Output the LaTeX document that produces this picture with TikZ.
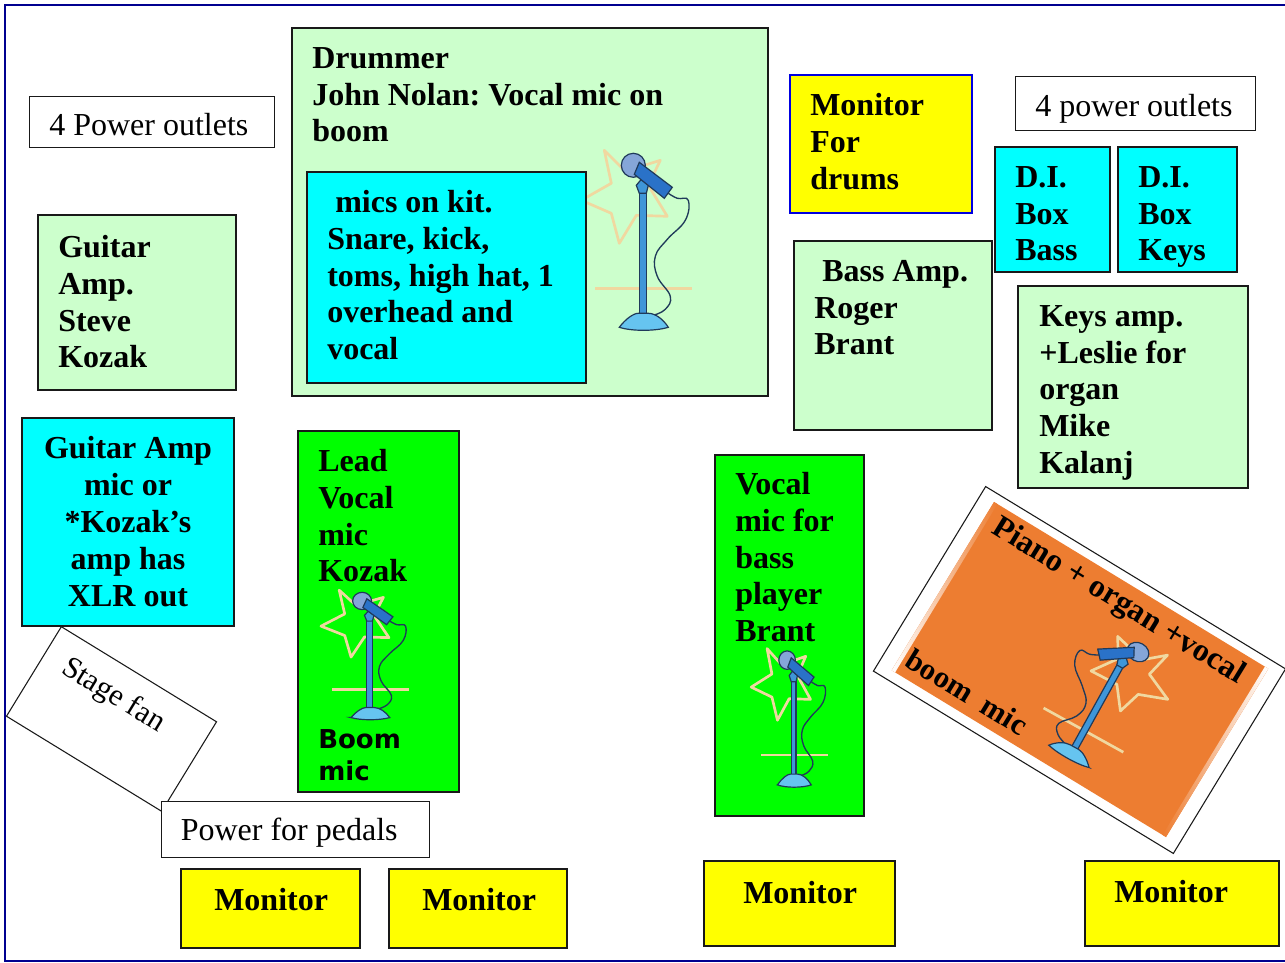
\documentclass[tikz,border=0pt]{standalone}
\usepackage{fontspec}
\setmainfont{Liberation Serif}
\newfontfamily\boomfont{DejaVu Sans}
\definecolor{palegreen}{HTML}{CCFFCC}
\definecolor{keyorange}{HTML}{ED7D31}
\definecolor{slidenavy}{HTML}{000090}
\definecolor{stagecyan}{HTML}{00FFFF}
\definecolor{stageyellow}{HTML}{FFFF00}
\definecolor{stagegreen}{HTML}{00FF00}
\definecolor{stageblue}{HTML}{0000E0}
\definecolor{startan}{HTML}{F0D8A0}
\definecolor{micblue}{HTML}{3F96D8}
\definecolor{baseblue}{HTML}{66C4F0}
\definecolor{headblue}{HTML}{85A6D8}
\definecolor{handleblue}{HTML}{2A72C8}
\definecolor{micedge}{HTML}{1F3A5A}
\tikzset{
  mic/.pic={
    \draw[startan,line width=2pt,line join=round] (-39,-173) -- (-18,-152) -- (17,-163) -- (5,-138) -- (24,-107) -- (-7,-108) -- (-24,-80) -- (-32,-110) -- (-62,-123) -- (-32,-140) -- cycle;
    \draw[startan,line width=2pt] (-48,-35) -- (49,-35);
    \draw[micedge,line width=1pt] plot[smooth,tension=.7] coordinates {(25,-130) (34,-125) (45,-123) (42,-103) (24,-84) (12,-67) (14,-47) (27,-27) (22,-14) (10,-8)};
    \draw[micedge,fill=micblue,line width=.9pt] (-4,-137) rectangle (3,-8);
    \draw[micedge,fill=baseblue,line width=.9pt] (-24,4) .. controls (-18,-4) and (-10,-10) .. (-5,-10) -- (5,-10) .. controls (12,-10) and (20,-4) .. (25,4) .. controls (12,8) and (-12,8) .. cycle;
    \draw[micedge,fill=micblue,line width=.9pt] (-7,-138) -- (-2,-144) -- (5,-138) -- (3,-130) -- (-4,-130) -- cycle;
    \draw[micedge,fill=headblue,line width=.9pt] (-10,-158) circle (12);
    \draw[micedge,fill=handleblue,line width=.9pt] (-4,-161) -- (29,-136) -- (21,-125) -- (-9,-149) -- cycle;
  }
}
\begin{document}
\frenchspacing
\begin{tikzpicture}[x=.75pt,y=-.75pt,
	stagebox/.style={draw=black!90,line width=1.5pt,anchor=north west,inner sep=0,outer sep=0},
	thinbox/.style={draw=black!90,line width=.8pt,fill=white,inner sep=0,outer sep=0},
	boxsize/.style 2 args={minimum width=#1*.75pt,minimum height=#2*.75pt},
	boldtext/.style={anchor=north west,inner sep=0,align=left,font=\fontsize{24}{27.6}\selectfont\bfseries,execute at begin node=\strut},
	plaintext/.style={anchor=north west,inner sep=0,align=left,font=\fontsize{24}{27.6}\selectfont,execute at begin node=\strut},
	turned/.style={inner sep=0,rotate=-31.5,font=\fontsize{24}{27.6}\selectfont},
]
	\useasboundingbox (0,0) rectangle (1285,963);
	\fill[white] (0,0) rectangle (1285,963);
	\draw[slidenavy,line width=1.5pt] (1285,5) -- (5,5) -- (5,961) -- (1285,961);

	% create the nodes
	\node (drummer) [stagebox,fill=palegreen,boxsize={476}{368}] at (292,28) {};
	\pic at (643.3,323.3) {mic};
	\node (kit) [stagebox,fill=stagecyan,boxsize={279}{211}] at (307,172) {};
	\node (drumMonitor) [stagebox,draw=stageblue,fill=stageyellow,boxsize={182}{138}] at (790,75) {};
	\node (diBass) [stagebox,fill=stagecyan,boxsize={115}{125}] at (995,147) {};
	\node (diKeys) [stagebox,fill=stagecyan,boxsize={119}{125}] at (1118,147) {};
	\node (guitarAmp) [stagebox,fill=palegreen,boxsize={198}{175}] at (38,215) {};
	\node (bassAmp) [stagebox,fill=palegreen,boxsize={198}{189}] at (794,241) {};
	\node (keysAmp) [stagebox,fill=palegreen,boxsize={230}{202}] at (1018,286) {};
	\node (guitarMic) [stagebox,fill=stagecyan,boxsize={212}{208}] at (22,418) {};
	\node (leadVocal) [stagebox,fill=stagegreen,boxsize={161}{361}] at (298,431) {};
	\node (bassVocal) [stagebox,fill=stagegreen,boxsize={149}{361}] at (715,455) {};
	\node (monitorA) [stagebox,fill=stageyellow,boxsize={179}{79}] at (181,869) {};
	\node (monitorB) [stagebox,fill=stageyellow,boxsize={178}{79}] at (389,869) {};
	\node (monitorC) [stagebox,fill=stageyellow,boxsize={191}{85}] at (704,861) {};
	\node (monitorD) [stagebox,fill=stageyellow,boxsize={194}{85}] at (1085,861) {};
	\node (outletsLeft) [thinbox,anchor=north west,boxsize={245}{51}] at (29.5,96.5) {};
	\node (outletsRight) [thinbox,anchor=north west,boxsize={240}{54}] at (1015.5,76.5) {};
	\node (fan) [thinbox,rotate=-31.5,boxsize={182}{105}] at (111.5,719) {};
	\node (pedals) [thinbox,anchor=north west,boxsize={268}{56}] at (161.5,801.5) {};
	\node (piano) [thinbox,rotate=-31.3,boxsize={351}{216}] at (1079.5,670) {};
	\node (pianoFill) [inner sep=0,outer sep=0,fill=keyorange,rotate=-31.3,boxsize={321}{197}] at (1080,669.5) {};
	\node (fadeLeft) [inner sep=0,outer sep=0,anchor=west,rotate=-31.3,left color=white,right color=keyorange,boxsize={4}{197}] at (pianoFill.west) {};
	\node (fadeRight) [inner sep=0,outer sep=0,anchor=east,rotate=-31.3,left color=keyorange,right color=white,boxsize={4}{197}] at (pianoFill.east) {};

	% the other microphones
	\pic[xscale=.79,yscale=.72] at (370,714.7) {mic};
	\pic[xscale=.69,yscale=.77] at (794,781.8) {mic};
	\pic[rotate=-29,xscale=-.94,yscale=.77] at (1070.8,753.9) {mic};

	% the texts
	\node (drummerText) [boldtext] at (312,47) {Drummer\\John Nolan: Vocal mic on\\boom};
	\node (kitText) [boldtext] at (327,190) {\hspace*{6pt}mics on kit.\\Snare, kick,\\toms, high hat, 1\\overhead and\\vocal};
	\node (drumMonitorText) [boldtext] at (810,93) {Monitor\\For\\drums};
	\node (diBassText) [boldtext] at (1015,166) {D.I.\\Box\\Bass};
	\node (diKeysText) [boldtext] at (1138,166) {D.I.\\Box\\Keys};
	\node (guitarAmpText) [boldtext] at (58,235) {Guitar\\Amp.\\Steve\\Kozak};
	\node (bassAmpText) [boldtext] at (814,260) {\hspace*{6pt}Bass Amp.\\Roger\\Brant};
	\node (keysAmpText) [boldtext] at (1039,305) {Keys amp.\\+Leslie for\\organ\\Mike\\Kalanj};
	\node (guitarMicText) [boldtext,anchor=north,align=center] at (128,436.5) {Guitar Amp\\mic or\\*Kozak’s\\amp has\\XLR out};
	\node (leadVocalText) [boldtext] at (318,449) {Lead\\Vocal\\mic\\Kozak};
	\node (boomText) [anchor=north west,inner sep=0,align=left,font=\fontsize{19.5}{24}\selectfont\boomfont\bfseries,execute at begin node=\strut] at (318,729) {Boom\\mic};
	\node (bassVocalText) [boldtext] at (735,472) {Vocal\\mic for\\bass\\player\\Brant};
	\node (monitorAText) [boldtext] at (214,884) {Monitor};
	\node (monitorBText) [boldtext] at (422,884) {Monitor};
	\node (monitorCText) [boldtext] at (743,877) {Monitor};
	\node (monitorDText) [boldtext] at (1114,876) {Monitor};
	\node (outletsLeftText) [plaintext] at (49,109) {4 Power outlets};
	\node (outletsRightText) [plaintext] at (1035,90) {4 power outlets};
	\node (pedalsText) [plaintext] at (180.5,814) {Power for pedals};
	\node (fanText) [turned,font=\fontsize{23}{25}\selectfont] at (113,696) {Stage fan};
	\node (pianoText) [turned,font=\fontsize{24}{27.6}\selectfont\bfseries] at (1118,602) {Piano + organ +vocal};
	\node (boomMicText) [turned,font=\fontsize{23}{27.6}\selectfont\bfseries] at (967,692) {boom\ \ mic};
\end{tikzpicture}
\end{document}
